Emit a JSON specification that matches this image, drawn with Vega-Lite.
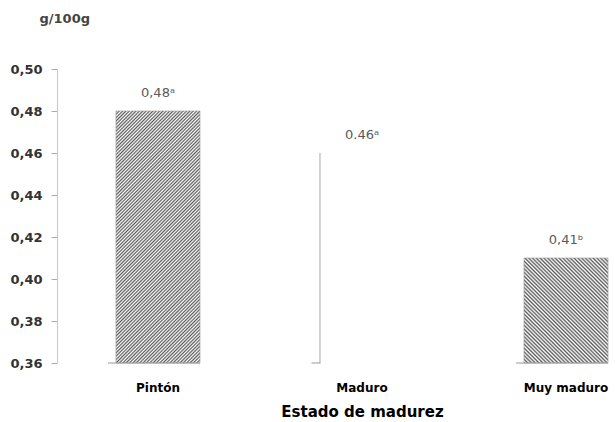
{
  "$schema": "https://vega.github.io/schema/vega-lite/v6.json",
  "width": 558,
  "height": 294,
  "autosize": "none",
  "padding": {"left": 57, "top": 69, "right": 0, "bottom": 59},
  "background": "white",
  "config": {"view": {"stroke": null}, "font": "DejaVu Sans"},
  "data": {
    "values": [
      {"estado": "Pintón", "valor": 0.48, "etiqueta": "0,48ᵃ"},
      {"estado": "Maduro", "valor": 0.46, "etiqueta": "0.46ᵃ"},
      {"estado": "Muy maduro", "valor": 0.41, "etiqueta": "0,41ᵇ"}
    ]
  },
  "encoding": {
    "x": {
      "field": "estado",
      "type": "nominal",
      "sort": ["Pintón", "Maduro", "Muy maduro"],
      "scale": {"range": [0, 610], "paddingInner": 0.588, "paddingOuter": 0.289},
      "axis": {
        "title": "Estado de  madurez",
        "domain": false,
        "ticks": false,
        "tickSize": 0,
        "labelAngle": 0,
        "labelFont": "DejaVu Sans",
        "labelFontWeight": "bold",
        "labelFontSize": 12,
        "labelColor": "#000000",
        "labelPadding": 19,
        "titleFont": "DejaVu Sans",
        "titleFontWeight": "bold",
        "titleFontSize": 15,
        "titleColor": "#000000",
        "titlePadding": 11
      }
    },
    "y": {
      "field": "valor",
      "type": "quantitative",
      "scale": {"domain": [0.36, 0.5], "zero": false, "nice": false},
      "axis": {
        "values": [0.36, 0.38, 0.4, 0.42, 0.44, 0.46, 0.48, 0.5],
        "labelExpr": "replace(format(datum.value, '.2f'), '.', ',')",
        "grid": false,
        "domainColor": "#c8c8c8",
        "tickColor": "#aaaaaa",
        "tickSize": 6,
        "labelPadding": 9,
        "labelFont": "DejaVu Sans",
        "labelFontWeight": "bold",
        "labelFontSize": 13,
        "labelColor": "#333333",
        "title": "g/100g",
        "titleAngle": 0,
        "titleAlign": "left",
        "titleBaseline": "alphabetic",
        "titleX": -18,
        "titleY": -47,
        "titleFont": "DejaVu Sans",
        "titleFontSize": 13,
        "titleFontWeight": "bold",
        "titleColor": "#444444"
      }
    }
  },
  "layer": [
    {
      "transform": [{"filter": "datum.estado === 'Pintón'"}],
      "mark": {
        "type": "bar",
        "stroke": "#9a9a9a",
        "strokeWidth": 0.6,
        "fill": {
          "gradient": "linear",
          "x1": 0, "y1": 0, "x2": 0.4, "y2": 1.2,
          "stops": [
            {"offset": 0, "color": "#5a5a5a"}, {"offset": 0.005, "color": "#ffffff"},
            {"offset": 0.01, "color": "#5a5a5a"}, {"offset": 0.015, "color": "#ffffff"},
            {"offset": 0.02, "color": "#5a5a5a"}, {"offset": 0.025, "color": "#ffffff"},
            {"offset": 0.03, "color": "#5a5a5a"}, {"offset": 0.035, "color": "#ffffff"},
            {"offset": 0.04, "color": "#5a5a5a"}, {"offset": 0.045, "color": "#ffffff"},
            {"offset": 0.05, "color": "#5a5a5a"}, {"offset": 0.055, "color": "#ffffff"},
            {"offset": 0.06, "color": "#5a5a5a"}, {"offset": 0.065, "color": "#ffffff"},
            {"offset": 0.07, "color": "#5a5a5a"}, {"offset": 0.075, "color": "#ffffff"},
            {"offset": 0.08, "color": "#5a5a5a"}, {"offset": 0.085, "color": "#ffffff"},
            {"offset": 0.09, "color": "#5a5a5a"}, {"offset": 0.095, "color": "#ffffff"},
            {"offset": 0.1, "color": "#5a5a5a"}, {"offset": 0.105, "color": "#ffffff"},
            {"offset": 0.11, "color": "#5a5a5a"}, {"offset": 0.115, "color": "#ffffff"},
            {"offset": 0.12, "color": "#5a5a5a"}, {"offset": 0.125, "color": "#ffffff"},
            {"offset": 0.13, "color": "#5a5a5a"}, {"offset": 0.135, "color": "#ffffff"},
            {"offset": 0.14, "color": "#5a5a5a"}, {"offset": 0.145, "color": "#ffffff"},
            {"offset": 0.15, "color": "#5a5a5a"}, {"offset": 0.155, "color": "#ffffff"},
            {"offset": 0.16, "color": "#5a5a5a"}, {"offset": 0.165, "color": "#ffffff"},
            {"offset": 0.17, "color": "#5a5a5a"}, {"offset": 0.175, "color": "#ffffff"},
            {"offset": 0.18, "color": "#5a5a5a"}, {"offset": 0.185, "color": "#ffffff"},
            {"offset": 0.19, "color": "#5a5a5a"}, {"offset": 0.195, "color": "#ffffff"},
            {"offset": 0.2, "color": "#5a5a5a"}, {"offset": 0.205, "color": "#ffffff"},
            {"offset": 0.21, "color": "#5a5a5a"}, {"offset": 0.215, "color": "#ffffff"},
            {"offset": 0.22, "color": "#5a5a5a"}, {"offset": 0.225, "color": "#ffffff"},
            {"offset": 0.23, "color": "#5a5a5a"}, {"offset": 0.235, "color": "#ffffff"},
            {"offset": 0.24, "color": "#5a5a5a"}, {"offset": 0.245, "color": "#ffffff"},
            {"offset": 0.25, "color": "#5a5a5a"}, {"offset": 0.255, "color": "#ffffff"},
            {"offset": 0.26, "color": "#5a5a5a"}, {"offset": 0.265, "color": "#ffffff"},
            {"offset": 0.27, "color": "#5a5a5a"}, {"offset": 0.275, "color": "#ffffff"},
            {"offset": 0.28, "color": "#5a5a5a"}, {"offset": 0.285, "color": "#ffffff"},
            {"offset": 0.29, "color": "#5a5a5a"}, {"offset": 0.295, "color": "#ffffff"},
            {"offset": 0.3, "color": "#5a5a5a"}, {"offset": 0.305, "color": "#ffffff"},
            {"offset": 0.31, "color": "#5a5a5a"}, {"offset": 0.315, "color": "#ffffff"},
            {"offset": 0.32, "color": "#5a5a5a"}, {"offset": 0.325, "color": "#ffffff"},
            {"offset": 0.33, "color": "#5a5a5a"}, {"offset": 0.335, "color": "#ffffff"},
            {"offset": 0.34, "color": "#5a5a5a"}, {"offset": 0.345, "color": "#ffffff"},
            {"offset": 0.35, "color": "#5a5a5a"}, {"offset": 0.355, "color": "#ffffff"},
            {"offset": 0.36, "color": "#5a5a5a"}, {"offset": 0.365, "color": "#ffffff"},
            {"offset": 0.37, "color": "#5a5a5a"}, {"offset": 0.375, "color": "#ffffff"},
            {"offset": 0.38, "color": "#5a5a5a"}, {"offset": 0.385, "color": "#ffffff"},
            {"offset": 0.39, "color": "#5a5a5a"}, {"offset": 0.395, "color": "#ffffff"},
            {"offset": 0.4, "color": "#5a5a5a"}, {"offset": 0.405, "color": "#ffffff"},
            {"offset": 0.41, "color": "#5a5a5a"}, {"offset": 0.415, "color": "#ffffff"},
            {"offset": 0.42, "color": "#5a5a5a"}, {"offset": 0.425, "color": "#ffffff"},
            {"offset": 0.43, "color": "#5a5a5a"}, {"offset": 0.435, "color": "#ffffff"},
            {"offset": 0.44, "color": "#5a5a5a"}, {"offset": 0.445, "color": "#ffffff"},
            {"offset": 0.45, "color": "#5a5a5a"}, {"offset": 0.455, "color": "#ffffff"},
            {"offset": 0.46, "color": "#5a5a5a"}, {"offset": 0.465, "color": "#ffffff"},
            {"offset": 0.47, "color": "#5a5a5a"}, {"offset": 0.475, "color": "#ffffff"},
            {"offset": 0.48, "color": "#5a5a5a"}, {"offset": 0.485, "color": "#ffffff"},
            {"offset": 0.49, "color": "#5a5a5a"}, {"offset": 0.495, "color": "#ffffff"},
            {"offset": 0.5, "color": "#5a5a5a"}, {"offset": 0.505, "color": "#ffffff"},
            {"offset": 0.51, "color": "#5a5a5a"}, {"offset": 0.515, "color": "#ffffff"},
            {"offset": 0.52, "color": "#5a5a5a"}, {"offset": 0.525, "color": "#ffffff"},
            {"offset": 0.53, "color": "#5a5a5a"}, {"offset": 0.535, "color": "#ffffff"},
            {"offset": 0.54, "color": "#5a5a5a"}, {"offset": 0.545, "color": "#ffffff"},
            {"offset": 0.55, "color": "#5a5a5a"}, {"offset": 0.555, "color": "#ffffff"},
            {"offset": 0.56, "color": "#5a5a5a"}, {"offset": 0.565, "color": "#ffffff"},
            {"offset": 0.57, "color": "#5a5a5a"}, {"offset": 0.575, "color": "#ffffff"},
            {"offset": 0.58, "color": "#5a5a5a"}, {"offset": 0.585, "color": "#ffffff"},
            {"offset": 0.59, "color": "#5a5a5a"}, {"offset": 0.595, "color": "#ffffff"},
            {"offset": 0.6, "color": "#5a5a5a"}, {"offset": 0.605, "color": "#ffffff"},
            {"offset": 0.61, "color": "#5a5a5a"}, {"offset": 0.615, "color": "#ffffff"},
            {"offset": 0.62, "color": "#5a5a5a"}, {"offset": 0.625, "color": "#ffffff"},
            {"offset": 0.63, "color": "#5a5a5a"}, {"offset": 0.635, "color": "#ffffff"},
            {"offset": 0.64, "color": "#5a5a5a"}, {"offset": 0.645, "color": "#ffffff"},
            {"offset": 0.65, "color": "#5a5a5a"}, {"offset": 0.655, "color": "#ffffff"},
            {"offset": 0.66, "color": "#5a5a5a"}, {"offset": 0.665, "color": "#ffffff"},
            {"offset": 0.67, "color": "#5a5a5a"}, {"offset": 0.675, "color": "#ffffff"},
            {"offset": 0.68, "color": "#5a5a5a"}, {"offset": 0.685, "color": "#ffffff"},
            {"offset": 0.69, "color": "#5a5a5a"}, {"offset": 0.695, "color": "#ffffff"},
            {"offset": 0.7, "color": "#5a5a5a"}, {"offset": 0.705, "color": "#ffffff"},
            {"offset": 0.71, "color": "#5a5a5a"}, {"offset": 0.715, "color": "#ffffff"},
            {"offset": 0.72, "color": "#5a5a5a"}, {"offset": 0.725, "color": "#ffffff"},
            {"offset": 0.73, "color": "#5a5a5a"}, {"offset": 0.735, "color": "#ffffff"},
            {"offset": 0.74, "color": "#5a5a5a"}, {"offset": 0.745, "color": "#ffffff"},
            {"offset": 0.75, "color": "#5a5a5a"}, {"offset": 0.755, "color": "#ffffff"},
            {"offset": 0.76, "color": "#5a5a5a"}, {"offset": 0.765, "color": "#ffffff"},
            {"offset": 0.77, "color": "#5a5a5a"}, {"offset": 0.775, "color": "#ffffff"},
            {"offset": 0.78, "color": "#5a5a5a"}, {"offset": 0.785, "color": "#ffffff"},
            {"offset": 0.79, "color": "#5a5a5a"}, {"offset": 0.795, "color": "#ffffff"},
            {"offset": 0.8, "color": "#5a5a5a"}, {"offset": 0.805, "color": "#ffffff"},
            {"offset": 0.81, "color": "#5a5a5a"}, {"offset": 0.815, "color": "#ffffff"},
            {"offset": 0.82, "color": "#5a5a5a"}, {"offset": 0.825, "color": "#ffffff"},
            {"offset": 0.83, "color": "#5a5a5a"}, {"offset": 0.835, "color": "#ffffff"},
            {"offset": 0.84, "color": "#5a5a5a"}, {"offset": 0.845, "color": "#ffffff"},
            {"offset": 0.85, "color": "#5a5a5a"}, {"offset": 0.855, "color": "#ffffff"},
            {"offset": 0.86, "color": "#5a5a5a"}, {"offset": 0.865, "color": "#ffffff"},
            {"offset": 0.87, "color": "#5a5a5a"}, {"offset": 0.875, "color": "#ffffff"},
            {"offset": 0.88, "color": "#5a5a5a"}, {"offset": 0.885, "color": "#ffffff"},
            {"offset": 0.89, "color": "#5a5a5a"}, {"offset": 0.895, "color": "#ffffff"},
            {"offset": 0.9, "color": "#5a5a5a"}, {"offset": 0.905, "color": "#ffffff"},
            {"offset": 0.91, "color": "#5a5a5a"}, {"offset": 0.915, "color": "#ffffff"},
            {"offset": 0.92, "color": "#5a5a5a"}, {"offset": 0.925, "color": "#ffffff"},
            {"offset": 0.93, "color": "#5a5a5a"}, {"offset": 0.935, "color": "#ffffff"},
            {"offset": 0.94, "color": "#5a5a5a"}, {"offset": 0.945, "color": "#ffffff"},
            {"offset": 0.95, "color": "#5a5a5a"}, {"offset": 0.955, "color": "#ffffff"},
            {"offset": 0.96, "color": "#5a5a5a"}, {"offset": 0.965, "color": "#ffffff"},
            {"offset": 0.97, "color": "#5a5a5a"}, {"offset": 0.975, "color": "#ffffff"},
            {"offset": 0.98, "color": "#5a5a5a"}, {"offset": 0.985, "color": "#ffffff"},
            {"offset": 0.99, "color": "#5a5a5a"}, {"offset": 0.995, "color": "#ffffff"},
            {"offset": 1, "color": "#5a5a5a"}
          ]
        }
      },
      "encoding": {"y2": {"datum": 0.36}}
    },
    {
      "transform": [{"filter": "datum.estado === 'Muy maduro'"}],
      "mark": {
        "type": "bar",
        "stroke": "#9a9a9a",
        "strokeWidth": 0.6,
        "fill": {
          "gradient": "linear",
          "x1": 0, "y1": 1, "x2": 0.878, "y2": -0.098,
          "stops": [
            {"offset": 0, "color": "#5a5a5a"}, {"offset": 0.01, "color": "#ffffff"},
            {"offset": 0.02, "color": "#5a5a5a"}, {"offset": 0.03, "color": "#ffffff"},
            {"offset": 0.04, "color": "#5a5a5a"}, {"offset": 0.05, "color": "#ffffff"},
            {"offset": 0.06, "color": "#5a5a5a"}, {"offset": 0.07, "color": "#ffffff"},
            {"offset": 0.08, "color": "#5a5a5a"}, {"offset": 0.09, "color": "#ffffff"},
            {"offset": 0.1, "color": "#5a5a5a"}, {"offset": 0.11, "color": "#ffffff"},
            {"offset": 0.12, "color": "#5a5a5a"}, {"offset": 0.13, "color": "#ffffff"},
            {"offset": 0.14, "color": "#5a5a5a"}, {"offset": 0.15, "color": "#ffffff"},
            {"offset": 0.16, "color": "#5a5a5a"}, {"offset": 0.17, "color": "#ffffff"},
            {"offset": 0.18, "color": "#5a5a5a"}, {"offset": 0.19, "color": "#ffffff"},
            {"offset": 0.2, "color": "#5a5a5a"}, {"offset": 0.21, "color": "#ffffff"},
            {"offset": 0.22, "color": "#5a5a5a"}, {"offset": 0.23, "color": "#ffffff"},
            {"offset": 0.24, "color": "#5a5a5a"}, {"offset": 0.25, "color": "#ffffff"},
            {"offset": 0.26, "color": "#5a5a5a"}, {"offset": 0.27, "color": "#ffffff"},
            {"offset": 0.28, "color": "#5a5a5a"}, {"offset": 0.29, "color": "#ffffff"},
            {"offset": 0.3, "color": "#5a5a5a"}, {"offset": 0.31, "color": "#ffffff"},
            {"offset": 0.32, "color": "#5a5a5a"}, {"offset": 0.33, "color": "#ffffff"},
            {"offset": 0.34, "color": "#5a5a5a"}, {"offset": 0.35, "color": "#ffffff"},
            {"offset": 0.36, "color": "#5a5a5a"}, {"offset": 0.37, "color": "#ffffff"},
            {"offset": 0.38, "color": "#5a5a5a"}, {"offset": 0.39, "color": "#ffffff"},
            {"offset": 0.4, "color": "#5a5a5a"}, {"offset": 0.41, "color": "#ffffff"},
            {"offset": 0.42, "color": "#5a5a5a"}, {"offset": 0.43, "color": "#ffffff"},
            {"offset": 0.44, "color": "#5a5a5a"}, {"offset": 0.45, "color": "#ffffff"},
            {"offset": 0.46, "color": "#5a5a5a"}, {"offset": 0.47, "color": "#ffffff"},
            {"offset": 0.48, "color": "#5a5a5a"}, {"offset": 0.49, "color": "#ffffff"},
            {"offset": 0.5, "color": "#5a5a5a"}, {"offset": 0.51, "color": "#ffffff"},
            {"offset": 0.52, "color": "#5a5a5a"}, {"offset": 0.53, "color": "#ffffff"},
            {"offset": 0.54, "color": "#5a5a5a"}, {"offset": 0.55, "color": "#ffffff"},
            {"offset": 0.56, "color": "#5a5a5a"}, {"offset": 0.57, "color": "#ffffff"},
            {"offset": 0.58, "color": "#5a5a5a"}, {"offset": 0.59, "color": "#ffffff"},
            {"offset": 0.6, "color": "#5a5a5a"}, {"offset": 0.61, "color": "#ffffff"},
            {"offset": 0.62, "color": "#5a5a5a"}, {"offset": 0.63, "color": "#ffffff"},
            {"offset": 0.64, "color": "#5a5a5a"}, {"offset": 0.65, "color": "#ffffff"},
            {"offset": 0.66, "color": "#5a5a5a"}, {"offset": 0.67, "color": "#ffffff"},
            {"offset": 0.68, "color": "#5a5a5a"}, {"offset": 0.69, "color": "#ffffff"},
            {"offset": 0.7, "color": "#5a5a5a"}, {"offset": 0.71, "color": "#ffffff"},
            {"offset": 0.72, "color": "#5a5a5a"}, {"offset": 0.73, "color": "#ffffff"},
            {"offset": 0.74, "color": "#5a5a5a"}, {"offset": 0.75, "color": "#ffffff"},
            {"offset": 0.76, "color": "#5a5a5a"}, {"offset": 0.77, "color": "#ffffff"},
            {"offset": 0.78, "color": "#5a5a5a"}, {"offset": 0.79, "color": "#ffffff"},
            {"offset": 0.8, "color": "#5a5a5a"}, {"offset": 0.81, "color": "#ffffff"},
            {"offset": 0.82, "color": "#5a5a5a"}, {"offset": 0.83, "color": "#ffffff"},
            {"offset": 0.84, "color": "#5a5a5a"}, {"offset": 0.85, "color": "#ffffff"},
            {"offset": 0.86, "color": "#5a5a5a"}, {"offset": 0.87, "color": "#ffffff"},
            {"offset": 0.88, "color": "#5a5a5a"}, {"offset": 0.89, "color": "#ffffff"},
            {"offset": 0.9, "color": "#5a5a5a"}, {"offset": 0.91, "color": "#ffffff"},
            {"offset": 0.92, "color": "#5a5a5a"}, {"offset": 0.93, "color": "#ffffff"},
            {"offset": 0.94, "color": "#5a5a5a"}, {"offset": 0.95, "color": "#ffffff"},
            {"offset": 0.96, "color": "#5a5a5a"}, {"offset": 0.97, "color": "#ffffff"},
            {"offset": 0.98, "color": "#5a5a5a"}, {"offset": 0.99, "color": "#ffffff"},
            {"offset": 1, "color": "#5a5a5a"}
          ]
        }
      },
      "encoding": {"y2": {"datum": 0.36}}
    },
    {
      "transform": [{"filter": "datum.estado === 'Maduro'"}],
      "mark": {"type": "rule", "color": "#a8a8a8", "strokeWidth": 1},
      "encoding": {
        "x": {"field": "estado", "type": "nominal", "sort": ["Pintón", "Maduro", "Muy maduro"], "bandPosition": 0},
        "y2": {"datum": 0.36}
      }
    },
    {
      "transform": [{"filter": "datum.estado !== 'Maduro'"}],
      "mark": {"type": "tick", "size": 92, "thickness": 1, "color": "#9a9a9a", "xOffset": -4, "opacity": 1},
      "encoding": {"y": {"datum": 0.36}}
    },
    {
      "transform": [{"filter": "datum.estado === 'Maduro'"}],
      "mark": {"type": "tick", "size": 9, "thickness": 1, "color": "#9a9a9a", "xOffset": -46, "opacity": 1},
      "encoding": {"y": {"datum": 0.36}}
    },
    {
      "mark": {"type": "text", "dy": -18, "baseline": "middle", "align": "center", "font": "DejaVu Sans", "fontSize": 13, "color": "#5a5a5a"},
      "encoding": {"text": {"field": "etiqueta"}}
    }
  ]
}
